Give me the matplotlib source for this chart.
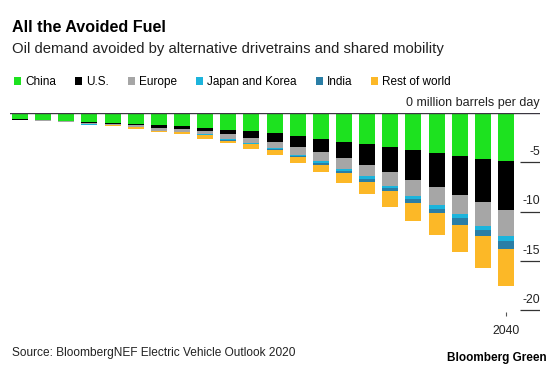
import numpy as np
import matplotlib.pyplot as plt
from matplotlib.patches import Patch

plt.rcParams['font.family'] = ['Liberation Sans', 'DejaVu Sans']

years = list(range(2019, 2041))
china = [0.65, 0.75, 0.85, 0.90, 0.98, 1.08, 1.25, 1.35, 1.52, 1.69, 1.86,
         2.07, 2.30, 2.64, 2.91, 3.14, 3.48, 3.75, 4.05, 4.40, 4.66, 4.90]
us = [0.07, 0.01, 0.01, 0.08, 0.10, 0.15, 0.27, 0.30, 0.34, 0.48, 0.64,
      0.87, 1.11, 1.28, 1.65, 2.10, 2.47, 3.01, 3.45, 3.88, 4.36, 4.97]
europe = [0.0, 0.01, 0.01, 0.17, 0.12, 0.15, 0.28, 0.25, 0.27, 0.47, 0.50,
          0.61, 0.81, 0.98, 1.11, 1.18, 1.45, 1.62, 1.86, 2.02, 2.40, 2.59]
japan_korea = [0.0, 0.0, 0.04, 0.02, 0.02, 0.04, 0.02, 0.02, 0.08, 0.08, 0.10,
               0.12, 0.14, 0.15, 0.20, 0.25, 0.22, 0.30, 0.37, 0.40, 0.45, 0.54]
india = [0.0, 0.0, 0.02, 0.0, 0.0, 0.0, 0.01, 0.01, 0.06, 0.08, 0.08,
         0.12, 0.14, 0.19, 0.25, 0.33, 0.32, 0.41, 0.47, 0.62, 0.63, 0.78]
rest = [0.0, 0.04, 0.0, 0.03, 0.10, 0.20, 0.05, 0.20, 0.33, 0.27, 0.44,
        0.50, 0.60, 0.74, 0.94, 1.18, 1.58, 1.89, 2.23, 2.76, 3.20, 3.82]

series = [('China', china, '#1de21f'),
          ('U.S.', us, '#000000'),
          ('Europe', europe, '#a6a6a6'),
          ('Japan and Korea', japan_korea, '#1cb4dc'),
          ('India', india, '#2a7ea6'),
          ('Rest of world', rest, '#fcb827')]

fig = plt.figure(figsize=(5.6, 3.69), dpi=100)
ax = fig.add_axes([10 / 560, 1 - 312 / 369, 530 / 560, (312 - 113) / 369])

x = np.arange(len(years))
bottom = np.zeros(len(years))
for name, vals, col in series:
    v = -np.array(vals)
    ax.bar(x, v, bottom=bottom, width=0.69, color=col, linewidth=0)
    bottom += v

ax.set_xlim(-0.43, 22.47)
ax.set_ylim(-20.2, 0)
ax.axhline(0, color='#3a3640', lw=1.0, zorder=3)

# y ticks on the right, drawn as short lines with labels above them
for t in [-5, -10, -15, -20]:
    ax.hlines(t, 21.62, 22.47, color='#333333', lw=0.9)
    ax.annotate(str(t), xy=(1.0, t), xycoords=('axes fraction', 'data'),
                xytext=(0, 3), textcoords='offset points',
                ha='right', va='bottom', fontsize=8.8, color='#222222')
ax.annotate('0 million barrels per day', xy=(1.0, 0), xycoords=('axes fraction', 'data'),
            xytext=(0, 3), textcoords='offset points',
            ha='right', va='bottom', fontsize=9, color='#222222')

ax.set_yticks([])
ax.set_xticks([21])
ax.set_xticklabels(['2040'], fontsize=8.8, color='#222222')
ax.tick_params(axis='x', length=3, width=0.8, color='#555555', pad=6)
for s in ax.spines.values():
    s.set_visible(False)

fig.text(12 / 560, 1 - 32 / 369, 'All the Avoided Fuel', fontsize=11.6,
         fontweight='bold', va='baseline', ha='left')
fig.text(12 / 560, 1 - 53 / 369, 'Oil demand avoided by alternative drivetrains and shared mobility',
         fontsize=10.7, va='baseline', ha='left', color='#222222')

handles = [Patch(facecolor=c, edgecolor='none', label=n) for n, _, c in series]
fig.legend(handles=handles, loc='upper left', bbox_to_anchor=(14 / 560, 1 - 76 / 369),
           ncol=6, frameon=False, fontsize=8.5, handlelength=0.6, handleheight=0.6,
           handletextpad=0.35, columnspacing=1.6, borderpad=0, borderaxespad=0)

fig.text(12 / 560, 1 - 356 / 369, 'Source: BloombergNEF Electric Vehicle Outlook 2020',
         fontsize=8.6, va='baseline', ha='left', color='#222222')
fig.text(547 / 560, 1 - 361 / 369, 'Bloomberg Green', fontsize=8.5, fontweight='bold',
         va='baseline', ha='right')

fig.savefig('out.png', dpi=100)
